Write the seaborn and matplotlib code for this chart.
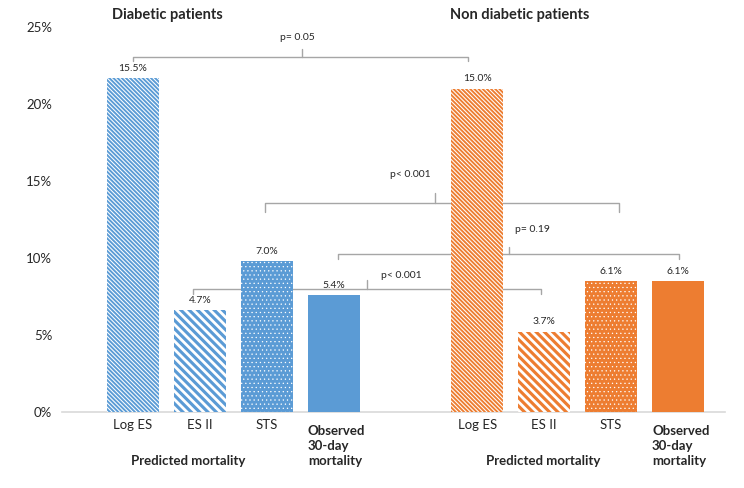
import matplotlib
matplotlib.use("Agg")
import matplotlib.pyplot as plt
import seaborn as sns
import pandas as pd

# ---- data (bar heights as drawn against the y axis, and the printed labels) ----
categories = ["Log ES", "ES II", "STS", "Observed\n30-day\nmortality"]
groups = ["Diabetic patients", "Non diabetic patients"]
diabetic_heights = [21.7, 6.6, 9.8, 7.6]
nondiabetic_heights = [21.0, 5.2, 8.5, 8.5]
diabetic_labels = ["15.5%", "4.7%", "7.0%", "5.4%"]
nondiabetic_labels = ["15.0%", "3.7%", "6.1%", "6.1%"]
y_ticks = [0, 5, 10, 15, 20, 25]
y_ticklabels = ["0%", "5%", "10%", "15%", "20%", "25%"]
p_values = ["p= 0.05", "p< 0.001", "p= 0.19", "p< 0.001"]

# ---- style ----
sns.set_style("white")
plt.rcParams["font.family"] = ["Lato", "DejaVu Sans"]
text_color = "#262626"
blue = "#5B9BD5"
orange = "#ED7D31"
line_gray = "#A6A6A6"

group_offset = 5.14
positions = [0, 1, 2, 3] + [group_offset + i for i in range(4)]
df = pd.DataFrame({
    "pos": positions,
    "height": diabetic_heights + nondiabetic_heights,
    "group": [groups[0]] * 4 + [groups[1]] * 4,
})

fig = plt.figure(figsize=(7.44, 4.88), dpi=100)
ax = fig.add_axes([0.0833, 0.1564, 0.9745 - 0.0833, 0.9918 - 0.1564])

sns.barplot(data=df, x="pos", y="height", hue="group", palette=[blue, orange],
            native_scale=True, dodge=False, width=0.78, legend=False, ax=ax,
            saturation=1, zorder=3)

hatches = ["\\" * 8, "\\" * 4, "....", ""]
hatch_lw = [0.75, 2.0, 0.4, 1.0]
for patch in ax.patches:
    cx = patch.get_x() + patch.get_width() / 2
    idx = min(range(len(positions)), key=lambda i: abs(positions[i] - cx))
    k = idx % 4
    patch.set_linewidth(0)
    if hatches[k]:
        patch.set_edgecolor("white")
        patch.set_hatch(hatches[k])
        if hasattr(patch, "set_hatch_linewidth"):
            patch.set_hatch_linewidth(hatch_lw[k])
    patch.set_zorder(3)

ax.set_xlim(-1.06, 8.84)
ax.set_ylim(0, 26.5)

# value labels
all_labels = diabetic_labels + nondiabetic_labels
all_heights = diabetic_heights + nondiabetic_heights
for x, h, lab in zip(positions, all_heights, all_labels):
    ax.annotate(lab, (x, h), xytext=(0, 7), textcoords="offset points",
                ha="center", va="center", fontsize=7.5, color=text_color)

# axes styling
sns.despine(ax=ax, left=True, top=True, right=True)
ax.spines["bottom"].set_color("#D9D9D9")
ax.spines["bottom"].set_linewidth(1.2)
ax.set_yticks(y_ticks)
ax.set_yticklabels(y_ticklabels, fontsize=9.5, color=text_color)
ax.tick_params(axis="y", length=0, pad=7)
tick_pos = positions[0:3] + positions[4:7]
ax.set_xticks(tick_pos)
ax.set_xticklabels(categories[:3] * 2, fontsize=9.5, color=text_color)
ax.tick_params(axis="x", length=0, pad=5)
ax.set_xlabel("")
ax.set_ylabel("")

# observed labels (bold, left aligned)
for gx in (positions[3], positions[7]):
    ax.text(gx - 0.39, -0.85, categories[3], ha="left", va="top", fontsize=9.5,
            fontweight="bold", color=text_color, linespacing=1.3, clip_on=False)

# predicted mortality labels
for cx in (0.82, 6.12):
    ax.text(cx, -3.2, "Predicted mortality", ha="center", va="center",
            fontsize=9.5, fontweight="bold", color=text_color, clip_on=False)

# group titles
ax.text(0.52, 25.76, groups[0], ha="center", va="center", fontsize=10.5,
        fontweight="bold", color=text_color, clip_on=False)
ax.text(5.78, 25.76, groups[1], ha="center", va="center", fontsize=10.5,
        fontweight="bold", color=text_color, clip_on=False)

# significance brackets: (x_left, x_right, level, tip_drop, notch_x, notch_rise, text_x, text_y)
brackets = [
    (0.0, 5.0, 23.07, 0.3, 2.52, 0.5, 2.46, 24.35),
    (1.97, 7.26, 13.54, 0.55, 4.51, 0.65, 4.14, 15.41),
    (3.06, 8.16, 10.26, 0.33, 5.62, 0.45, 5.96, 11.81),
    (0.90, 6.09, 7.99, 0.33, 3.50, 0.55, 4.01, 8.83),
]
for (xl, xr, lvl, drop, nx, rise, tx, ty), ptxt in zip(brackets, p_values):
    ax.plot([xl, xl, xr, xr], [lvl - drop, lvl, lvl, lvl - drop],
            color=line_gray, lw=1.0, zorder=1, solid_joinstyle="round")
    ax.plot([nx, nx], [lvl, lvl + rise], color=line_gray, lw=1.0, zorder=1)
    ax.text(tx, ty, ptxt, ha="center", va="center", fontsize=7.5,
            color=text_color)

fig.savefig("out.png", dpi=100)
